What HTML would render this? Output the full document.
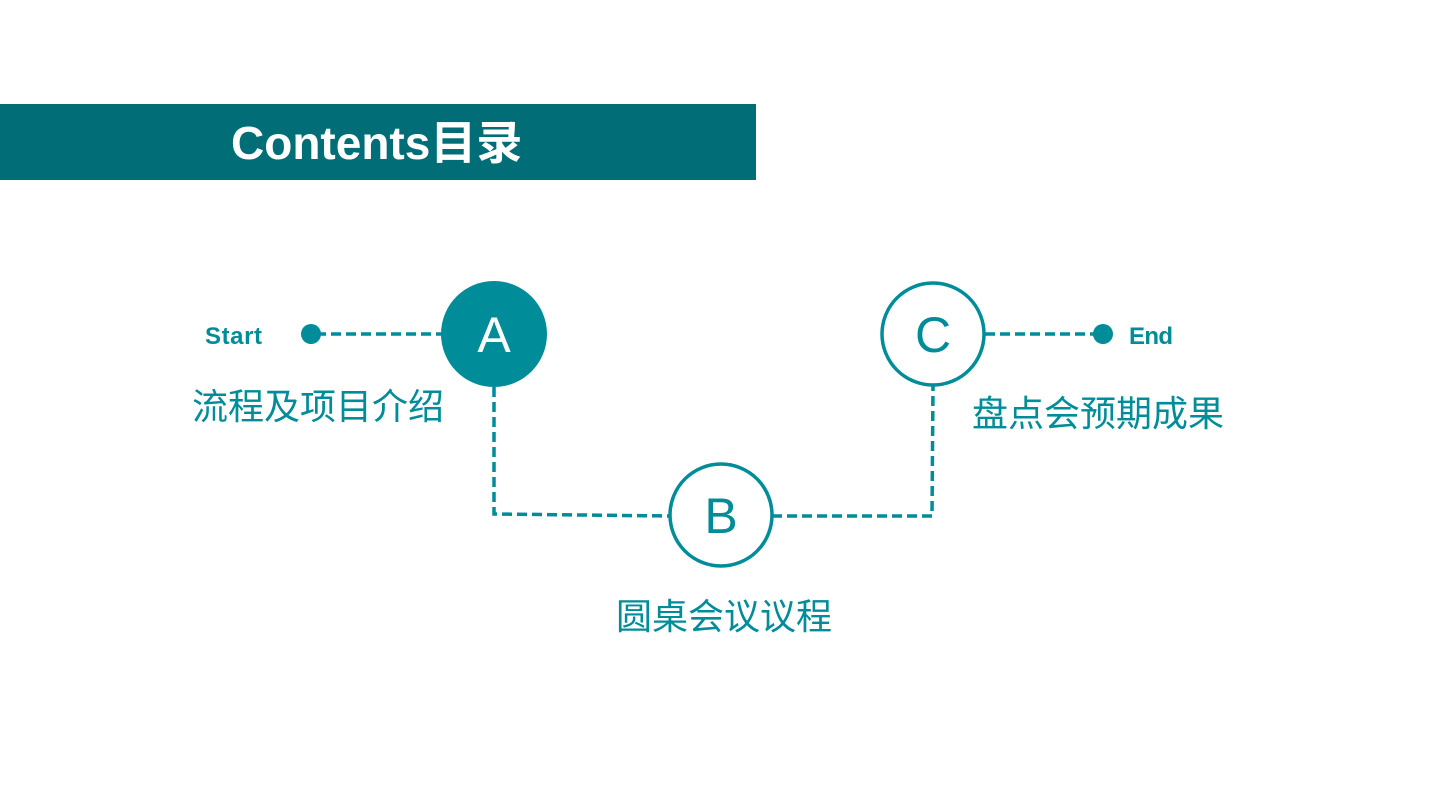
<!DOCTYPE html>
<html><head><meta charset="utf-8"><style>
html,body{margin:0;padding:0;background:#fff;width:1440px;height:810px;overflow:hidden}
</style></head><body>
<svg width="1440" height="810" xmlns="http://www.w3.org/2000/svg" style="display:block">
<rect x="0" y="104" width="756" height="76" fill="#006d77"/>
<text x="231" y="159" font-family="Liberation Sans, Noto Sans CJK SC, sans-serif" font-weight="bold" font-size="46" fill="#fff">Contents目录</text>
<g stroke="#008c99" stroke-width="3.5" fill="none" stroke-dasharray="10,5">
<line x1="316" y1="334" x2="442" y2="334"/>
<polyline points="494,387 494,514 670,516"/>
<polyline points="772,516 932,516 933,386"/>
<line x1="985" y1="334" x2="1100" y2="334"/>
</g>
<circle cx="311" cy="334" r="10" fill="#008c99"/>
<circle cx="1103" cy="334" r="10" fill="#008c99"/>
<circle cx="494" cy="334" r="53" fill="#008c99"/>
<circle cx="721" cy="515" r="51" fill="#fff" stroke="#008c99" stroke-width="3.5"/>
<circle cx="933" cy="334" r="51" fill="#fff" stroke="#008c99" stroke-width="3.5"/>
<g font-family="Liberation Sans, Noto Sans CJK SC, sans-serif" text-anchor="middle" font-size="50">
<text x="494" y="352" fill="#fff">A</text>
<text x="721" y="533" fill="#008c99">B</text>
<text x="933" y="352" fill="#008c99">C</text>
</g>
<g font-family="Liberation Sans, sans-serif" font-weight="bold" font-size="24" fill="#008c99">
<text x="205" y="344" textLength="57">Start</text>
<text x="1129" y="344" textLength="44">End</text>
</g>
<g font-family="Liberation Sans, Noto Sans CJK SC, sans-serif" font-size="36" fill="#008c99">
<text x="192" y="419">流程及项目介绍</text>
<text x="972" y="426">盘点会预期成果</text>
<text x="616" y="629">圆桌会议议程</text>
</g>
</svg>
</body></html>
